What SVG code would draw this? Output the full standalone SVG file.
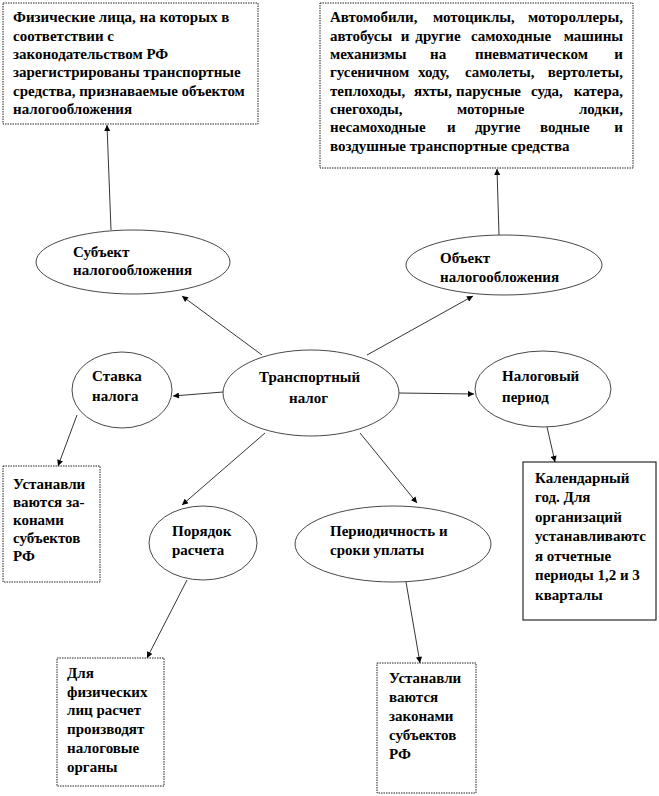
<svg xmlns="http://www.w3.org/2000/svg" width="659" height="796" viewBox="0 0 659 796">
<style>
text{font-family:"Liberation Serif","Times New Roman",serif;font-weight:bold;font-size:15px;fill:#000}
.dot{fill:#fff;stroke:#222;stroke-width:1;stroke-dasharray:1.5 1}
.sol{fill:#fff;stroke:#000;stroke-width:1}
.ell{fill:#fff;stroke:#333;stroke-width:0.9}
.con line{stroke:#000;stroke-width:0.8;marker-end:url(#ah)}
.e{text-anchor:end}
.m{text-anchor:middle}
</style>
<defs>
<marker id="ah" viewBox="0 0 10 10" refX="10" refY="5" markerWidth="7" markerHeight="6" markerUnits="userSpaceOnUse" orient="auto">
<path d="M0,0 L10,5 L0,10 z" fill="#000"/>
</marker>
</defs>
<g id="connectors" class="con">
<line x1="111" y1="230" x2="107" y2="125"/>
<line x1="499" y1="235" x2="497" y2="169"/>
<line x1="262" y1="355" x2="182" y2="296"/>
<line x1="367" y1="355" x2="473" y2="296"/>
<line x1="223" y1="392" x2="173" y2="396"/>
<line x1="399" y1="393" x2="474" y2="394"/>
<line x1="265" y1="433" x2="182" y2="505"/>
<line x1="360" y1="433" x2="417" y2="503"/>
<line x1="77" y1="415" x2="58" y2="466"/>
<line x1="547" y1="427" x2="555" y2="462"/>
<line x1="187" y1="580" x2="147" y2="658"/>
<line x1="406" y1="582" x2="420" y2="663"/>
</g>
<g id="box-subject-desc">
<rect class="dot" x="3" y="3" width="255" height="121"/>
<text x="13" y="22">Физические лица, на которых в</text>
<text x="13" y="41">соответствии с</text>
<text x="13" y="59">законодательством РФ</text>
<text x="13" y="77">зарегистрированы транспортные</text>
<text x="13" y="96">средства, признаваемые объектом</text>
<text x="13" y="114">налогообложения</text>
</g>
<g id="box-object-desc">
<rect class="dot" x="320" y="3" width="313" height="165"/>
<text x="330" y="22">Автомобили,</text><text x="433" y="22">мотоциклы,</text><text class="e" x="623" y="22">мотороллеры,</text>
<text x="330" y="41">автобусы</text><text class="m" x="405" y="41">и</text><text class="m" x="438" y="41">другие</text><text class="m" x="511" y="41">самоходные</text><text class="e" x="623" y="41">машины</text>
<text x="330" y="59">механизмы</text><text x="430" y="59">на</text><text x="475" y="59">пневматическом</text><text class="e" x="623" y="59">и</text>
<text x="330" y="77">гусеничном</text><text x="418" y="77">ходу,</text><text x="465" y="77">самолеты,</text><text class="e" x="623" y="77">вертолеты,</text>
<text x="330" y="96">теплоходы,</text><text x="414" y="96">яхты,</text><text x="456" y="96">парусные</text><text x="531" y="96">суда,</text><text class="e" x="623" y="96">катера,</text>
<text x="330" y="114">снегоходы,</text><text x="457" y="114">моторные</text><text class="e" x="623" y="114">лодки,</text>
<text x="330" y="132">несамоходные</text><text x="447" y="132">и</text><text x="475" y="132">другие</text><text x="540" y="132">водные</text><text class="e" x="623" y="132">и</text>
<text x="330" y="151">воздушные транспортные средства</text>
</g>
<g id="subject">
<ellipse class="ell" cx="133" cy="262" rx="97" ry="32"/>
<text x="73" y="257">Субъект</text>
<text x="73" y="275">налогообложения</text>
</g>
<g id="object">
<ellipse class="ell" cx="504" cy="265" rx="98" ry="30"/>
<text x="440" y="263">Объект</text>
<text x="440" y="282">налогообложения</text>
</g>
<g id="center">
<ellipse class="ell" cx="311" cy="393" rx="88" ry="43"/>
<text x="259" y="382">Транспортный</text>
<text x="289" y="403">налог</text>
</g>
<g id="rate">
<ellipse class="ell" cx="122" cy="390" rx="50" ry="38"/>
<text x="92" y="381">Ставка</text>
<text x="92" y="401">налога</text>
</g>
<g id="period">
<ellipse class="ell" cx="543" cy="389" rx="68" ry="38"/>
<text x="502" y="381">Налоговый</text>
<text x="502" y="402">период</text>
</g>
<g id="calc">
<ellipse class="ell" cx="203" cy="543" rx="54" ry="37"/>
<text x="172" y="536">Порядок</text>
<text x="172" y="555">расчета</text>
</g>
<g id="payment">
<ellipse class="ell" cx="393" cy="544" rx="98" ry="38"/>
<text x="330" y="536">Периодичность и</text>
<text x="330" y="555">сроки уплаты</text>
</g>
<g id="box-rate">
<rect class="dot" x="3" y="466" width="97" height="116"/>
<text x="13" y="489">Устанавли</text>
<text x="13" y="507">ваются за-</text>
<text x="13" y="525">конами</text>
<text x="13" y="543">субъектов</text>
<text x="13" y="561">РФ</text>
</g>
<g id="box-period">
<rect class="sol" x="523" y="462" width="133" height="158"/>
<text x="535" y="483">Календарный</text>
<text x="535" y="502">год. Для</text>
<text x="535" y="522">организаций</text>
<text x="535" y="541">устанавливаютс</text>
<text x="535" y="561">я отчетные</text>
<text x="535" y="580">периоды 1,2 и 3</text>
<text x="535" y="600">кварталы</text>
</g>
<g id="box-calc">
<rect class="dot" x="57" y="658" width="107" height="128"/>
<text x="67" y="678">Для</text>
<text x="67" y="697">физических</text>
<text x="67" y="715">лиц расчет</text>
<text x="67" y="734">производят</text>
<text x="67" y="753">налоговые</text>
<text x="67" y="772">органы</text>
</g>
<g id="box-payment">
<rect class="dot" x="377" y="663" width="99" height="130"/>
<text x="389" y="683">Устанавли</text>
<text x="389" y="702">ваются</text>
<text x="389" y="721">законами</text>
<text x="389" y="740">субъектов</text>
<text x="389" y="759">РФ</text>
</g>
</svg>
